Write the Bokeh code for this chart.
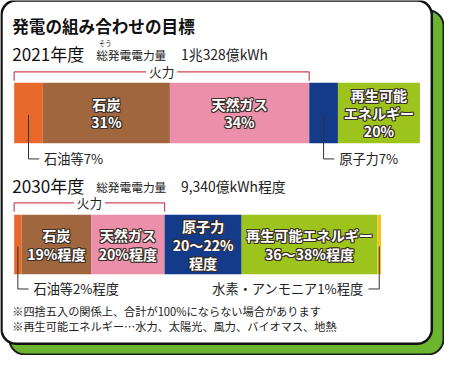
import numpy as np
from bokeh.plotting import figure
from bokeh.models import Range1d, ColumnDataSource
from bokeh.core.properties import value
from bokeh.embed import file_html
from bokeh.resources import INLINE

# ---------------- data ----------------
title = "発電の組み合わせの目標"
total_label = "総発電電力量"
furigana = "そう"
fire_label = "火力"

year_2021 = "2021年度"
total_2021 = "1兆328億kWh"
sources_2021 = ["石油等", "石炭", "天然ガス", "原子力", "再生可能エネルギー"]
share_2021 = [7, 31, 34, 7, 20]
inbar_2021 = ["", "石炭\n31%", "天然ガス\n34%", "", "再生可能\nエネルギー\n20%"]
callout_2021 = ["石油等7%", "", "", "原子力7%", ""]

year_2030 = "2030年度"
total_2030 = "9,340億kWh程度"
sources_2030 = ["石油等", "石炭", "天然ガス", "原子力", "再生可能エネルギー", "水素・アンモニア"]
share_2030 = [2, 19, 20, 21, 37, 1]
inbar_2030 = ["", "石炭\n19%程度", "天然ガス\n20%程度", "原子力\n20〜22%\n程度", "再生可能エネルギー\n36〜38%程度", ""]
callout_2030 = ["石油等2%程度", "", "", "", "", "水素・アンモニア1%程度"]

fire_sources = ["石油等", "石炭", "天然ガス"]

notes = ["※四捨五入の関係上、合計が100%にならない場合があります",
         "※再生可能エネルギー…水力、太陽光、風力、バイオマス、地熱"]

colors = {"石油等": "#e8692b", "石炭": "#a0673f", "天然ガス": "#ec8fab",
          "原子力": "#133b8a", "再生可能エネルギー": "#9cc41d", "水素・アンモニア": "#f2c31c"}

# ---------------- layout ----------------
W, H = 444, 355
X0, X1, Y0, Y1 = 3, 458, 4, 367          # reference pixel frame
S = W / (X1 - X0)                          # font scale
FONT = value("Noto Sans CJK JP")
BAR_LEFT = 17
PX_PER_PCT_2021 = 4.2
PX_PER_PCT_2030 = 3.76
BAR_2021 = (88, 150)
BAR_2030 = (223, 284)
BRACKET_2021_Y = 77
BRACKET_2030_Y = 211
HALO = [(-1, -1), (0, -1), (1, -1), (-1, 0), (1, 0), (-1, 1), (0, 1), (1, 1)]


def fs(px):
    return f"{px * S:.1f}px"


def rounded_rect(x0, y0, x1, y1, r, n=12):
    xs, ys = [], []
    corners = [(x1 - r, y0 + r, -90, 0), (x1 - r, y1 - r, 0, 90),
               (x0 + r, y1 - r, 90, 180), (x0 + r, y0 + r, 180, 270)]
    for cx, cy, a0, a1 in corners:
        t = np.radians(np.linspace(a0, a1, n))
        xs.extend(cx + r * np.cos(t))
        ys.extend(cy + r * np.sin(t))
    return xs, ys


p = figure(width=W, height=H, x_range=Range1d(X0, X1), y_range=Range1d(Y1, Y0),
           output_backend="svg", toolbar_location=None, min_border=0,
           x_axis_type=None, y_axis_type=None)
p.grid.visible = False
p.outline_line_color = None
p.background_fill_color = "white"
p.border_fill_color = "white"

# card with green shadow
gx, gy = rounded_rect(12, 14, 457, 366, 16)
p.patch(gx, gy, fill_color="#6cb52f", line_color="#1a1a1a", line_width=2)
cx, cy = rounded_rect(4, 4, 445, 355, 15)
p.patch(cx, cy, fill_color="white", line_color="#111111", line_width=2.5)


def text(x, y, t, size, color="#222222", align="left", bold=False, **kw):
    xs = x if isinstance(x, list) else [x]
    ys = y if isinstance(y, list) else [y]
    ts = t if isinstance(t, list) else [t] * len(xs)
    p.text(x=xs, y=ys, text=ts, text_font=FONT, text_font_size=fs(size),
           text_color=color, text_align=align, text_baseline="middle",
           text_font_style="bold" if bold else "normal", **kw)


text(15, 30, title, 17, color="#111111", bold=True)


def draw_bar(year, total, sources, share, inbar, callout, ppp, bar_y, bracket_y, head_y,
             callout_y, line_gap):
    text(15, head_y, year, 17.5, color="#111111")
    text(101, head_y + 1, total_label, 12)
    text(188, head_y + 1, total, 14.2)

    vals = np.array(share, dtype=float)
    right = BAR_LEFT + np.cumsum(vals) * ppp
    left = right - vals * ppp
    src = ColumnDataSource(dict(left=left, right=right,
                                top=[bar_y[0]] * len(vals), bottom=[bar_y[1]] * len(vals),
                                color=[colors[s] for s in sources]))
    p.quad(left="left", right="right", top="top", bottom="bottom", fill_color="color",
           line_color=None, source=src)

    # fire bracket
    fire_end = right[[i for i, s in enumerate(sources) if s in fire_sources]].max()
    mid = (BAR_LEFT + fire_end) / 2
    gap = 16
    p.multi_line(xs=[[BAR_LEFT, BAR_LEFT, mid - gap], [mid + gap, fire_end, fire_end]],
                 ys=[[bracket_y + 9, bracket_y, bracket_y], [bracket_y, bracket_y, bracket_y + 9]],
                 line_color="#cf4658", line_width=1.2)
    text(mid, bracket_y, fire_label, 13, color="#222222", align="center")

    # labels inside segments: dark halo copies underneath, white copy on top
    centers = (left + right) / 2
    ymid = (bar_y[0] + bar_y[1]) / 2
    for c, lab in zip(centers, inbar):
        if not lab:
            continue
        lines = lab.split("\n")
        n = len(lines)
        for i, ln in enumerate(lines):
            yy = ymid + (i - (n - 1) / 2) * line_gap
            text([c + dx for dx, dy in HALO], [yy + dy for dx, dy in HALO], ln, 14.5,
                 color="#3b2f29", align="center", bold=True)
            text(c, yy, ln, 14.5, color="white", align="center", bold=True)

    # callouts
    for i, (c, lab) in enumerate(zip(centers, callout)):
        if not lab:
            continue
        direction = -1 if sources[i] == "水素・アンモニア" else 1
        p.line([c, c, c + direction * 11], [ymid + 2, callout_y, callout_y],
               line_color="#333333", line_width=1)
        text(c + direction * 16, callout_y, lab, 13.5,
             align="left" if direction > 0 else "right")


draw_bar(year_2021, total_2021, sources_2021, share_2021, inbar_2021, callout_2021,
         PX_PER_PCT_2021, BAR_2021, BRACKET_2021_Y, 58, 166, 18.5)
text(104, 48, furigana, 6.5)
draw_bar(year_2030, total_2030, sources_2030, share_2030, inbar_2030, callout_2030,
         PX_PER_PCT_2030, BAR_2030, BRACKET_2030_Y, 193, 299, 19)

text(15, 322, notes[0], 11.5)
text(15, 337, notes[1], 11.5)

open("out.html", "w").write(file_html(p, INLINE))
